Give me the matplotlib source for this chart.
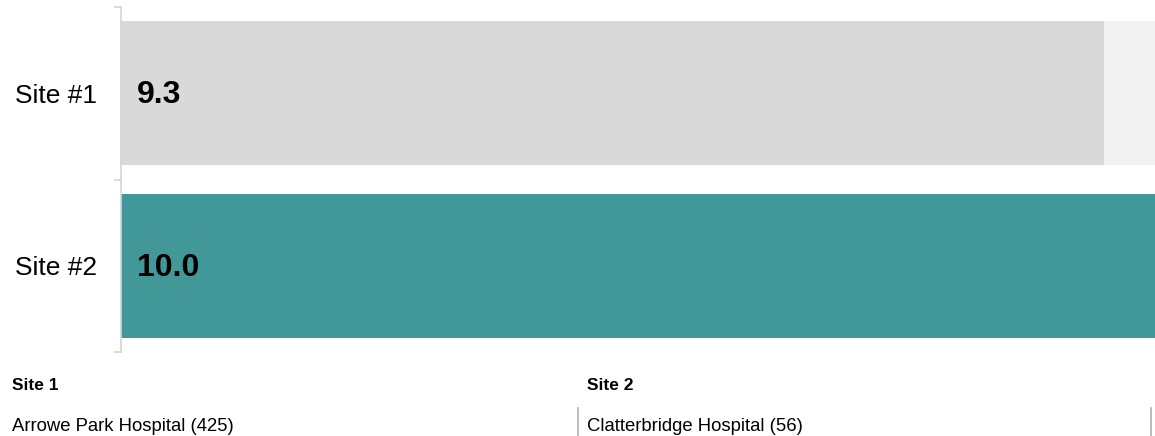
import matplotlib.pyplot as plt
from matplotlib.lines import Line2D

plt.rcParams['font.family'] = ['Liberation Sans', 'DejaVu Sans']

# data
sites = ["Site #1", "Site #2"]
scores = [9.3, 10.0]
score_max = 10.0
site_titles = ["Site 1", "Site 2"]
site_names = ["Arrowe Park Hospital (425)", "Clatterbridge Hospital (56)"]

bar_colors = ["#d9d9d9", "#429898"]
track_color = "#f2f2f2"
axis_min = -4.2  # scale start used by the original widget

fig = plt.figure(figsize=(11.55, 4.36), dpi=100)
ax = fig.add_axes([121 / 1155, 1 - 352 / 436, 1 - 121 / 1155, (352 - 7) / 436])

ypos = [i + 0.5 for i in range(len(sites))]
bar_h = 0.835

# background track then value bar
ax.barh(ypos, [score_max - axis_min] * len(sites), left=axis_min, height=bar_h,
        color=track_color, linewidth=0)
ax.barh(ypos, [s - axis_min for s in scores], left=axis_min, height=bar_h,
        color=bar_colors, linewidth=0)

for y, s in zip(ypos, scores):
    ax.annotate(f"{s:.1f}", xy=(axis_min, y), xytext=(11.5, -1.5), textcoords="offset points",
                ha="left", va="center", fontsize=23, fontweight="bold", color="black")

ax.set_xlim(axis_min, score_max)
ax.set_ylim(len(sites), 0)

ax.set_yticks(ypos)
ax.set_yticklabels(sites, fontsize=19)
ax.tick_params(axis="y", which="major", length=0, pad=17)
ax.set_yticks(range(len(sites) + 1), minor=True)
ax.tick_params(axis="y", which="minor", length=5, color="#d3d3d3", width=1.2)
ax.set_xticks([])

for side in ["top", "right", "bottom"]:
    ax.spines[side].set_visible(False)
ax.spines["left"].set_color("#d3d3d3")
ax.spines["left"].set_linewidth(1.2)

# footer with site details
col_x = [12 / 1155, 587 / 1155]
for x, title, name in zip(col_x, site_titles, site_names):
    fig.text(x, 1 - 390 / 436, title, fontsize=12.5, fontweight="bold", ha="left", va="baseline")
    fig.text(x, 1 - 431 / 436, name, fontsize=13.3, ha="left", va="baseline")

for lx in [578 / 1155, 1151 / 1155]:
    fig.add_artist(Line2D([lx, lx], [0, 1 - 408 / 436], color="#b0b0b0", linewidth=1.2,
                          transform=fig.transFigure))

fig.savefig("out.png", dpi=100)
